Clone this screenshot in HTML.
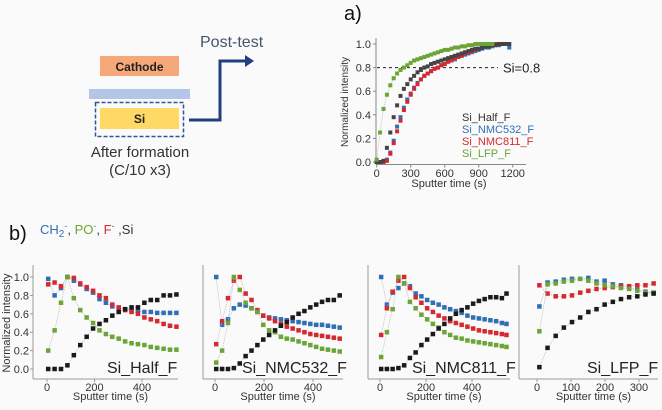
<!DOCTYPE html>
<html><head><meta charset="utf-8">
<style>
body{margin:0;background:#fafafa;}
svg{display:block;font-family:"Liberation Sans",sans-serif;}
</style></head>
<body>
<svg id="fig" width="662" height="410" viewBox="0 0 662 410" xmlns="http://www.w3.org/2000/svg">
<rect width="662" height="410" fill="#fafafa"/>
<g>
  <rect x="100" y="56" width="79" height="20" fill="#f7a878"/>
  <text x="139.5" y="71" text-anchor="middle" font-size="12" font-weight="bold" fill="#222">Cathode</text>
  <rect x="89" y="89" width="101" height="10" fill="#b4c6e7"/>
  <rect x="95.5" y="102.5" width="88" height="34" fill="none" stroke="#2f5597" stroke-width="1.5" stroke-dasharray="4,2"/>
  <rect x="100" y="108" width="79" height="21" fill="#ffd966"/>
  <text x="139.5" y="123" text-anchor="middle" font-size="12" font-weight="bold" fill="#222">Si</text>
  <text x="140" y="157" text-anchor="middle" font-size="15" fill="#333">After formation</text>
  <text x="140" y="175" text-anchor="middle" font-size="15" fill="#333">(C/10 x3)</text>
  <polyline points="189,120 220,120 220,61 246,61" fill="none" stroke="#1f3f7f" stroke-width="3"/>
  <polygon points="245,55 254,61 245,67" fill="#1f3f7f"/>
  <text x="200" y="47" font-size="16" fill="#44546a">Post-test</text>
</g>
<text x="344" y="20" font-size="20" fill="#111">a)</text>
<text x="9" y="240" font-size="20" fill="#111">b)</text>
<text x="40" y="234" font-size="13"><tspan fill="#2f6fb5">CH</tspan><tspan fill="#2f6fb5" font-size="10" dy="3">2</tspan><tspan fill="#2f6fb5" font-size="9" dy="-8">-</tspan><tspan fill="#333" dy="5">, </tspan><tspan fill="#6aa535">PO</tspan><tspan fill="#6aa535" font-size="9" dy="-5">-</tspan><tspan fill="#333" dy="5">, </tspan><tspan fill="#d8282f">F</tspan><tspan fill="#d8282f" font-size="9" dy="-5">-</tspan><tspan fill="#333" dy="5"> ,Si</tspan></text>
<g id="plots"></g>
</svg>
<script>
// Panel a data
const aTimes=[0,30,60,90,120,150,180,210,240,270,300,330,360,390,420,450,480,510,540,570,600,630,660,690,720,750,780,810,840,870,900,930,960,990,1020,1050,1080,1110,1140,1170];
const aHalf=[0,0,0.01,0.12,0.25,0.38,0.48,0.56,0.62,0.66,0.70,0.73,0.76,0.78,0.80,0.81,0.83,0.84,0.85,0.86,0.87,0.88,0.89,0.90,0.91,0.92,0.93,0.94,0.95,0.96,0.96,0.97,0.98,0.98,0.99,0.99,1.0,1.0,1.0,1.0];
const aNMC532=[0,0,0,0.02,0.08,0.18,0.30,0.38,0.46,0.53,0.58,0.63,0.67,0.70,0.73,0.75,0.77,0.79,0.80,0.82,0.83,0.85,0.86,0.87,0.89,0.90,0.91,0.92,0.93,0.94,0.95,0.96,0.97,0.97,0.98,0.99,0.99,1.0,1.0,0.97];
const aNMC811=[0,0,0,0.01,0.07,0.16,0.26,0.35,0.44,0.51,0.57,0.62,0.66,0.70,0.73,0.75,0.77,0.79,0.80,0.82,0.83,0.85,0.86,0.88,0.89,0.90,0.92,0.93,0.94,0.95,0.96,0.97,0.98,0.98,0.99,1.0,1.0,1.0,null,null];
const aLFP=[0.02,0.25,0.45,0.57,0.65,0.71,0.75,0.78,0.80,0.82,0.84,0.86,0.87,0.88,0.89,0.90,0.91,0.92,0.93,0.94,0.95,0.95,0.96,0.97,0.97,0.98,0.98,0.99,0.99,1.0,1.0,1.0,1.0,1.0,1.0,null,null,null,null,null];
const aXTicks=[0,300,600,900,1200];
const aYTicks=[0,0.2,0.4,0.6,0.8,1.0];

// Panel b data
const bTitles=["Si_Half_F","Si_NMC532_F","Si_NMC811_F","Si_LFP_F"];
const b1Times=[5,32,59,86,113,140,167,194,221,248,275,302,329,356,383,410,437,464,491,518,545];
const b1Si=[0,0,0,0.04,0.15,0.26,0.35,0.44,0.49,0.53,0.58,0.62,0.65,0.67,0.67,0.72,0.75,0.75,0.80,0.80,0.81];
const b1CH2=[0.98,0.80,0.88,1.0,0.96,0.92,0.87,0.83,0.76,0.72,0.68,0.66,0.65,0.64,0.63,0.62,0.62,0.61,0.61,0.61,0.61];
const b1F=[0.92,0.94,0.90,1.0,0.99,0.93,0.89,0.85,0.80,0.77,0.70,0.67,0.64,0.62,0.60,0.56,0.54,0.52,0.49,0.47,0.46];
const b1PO=[0.20,0.42,0.72,1.0,0.77,0.64,0.56,0.50,0.42,0.38,0.35,0.33,0.30,0.28,0.27,0.26,0.24,0.23,0.22,0.21,0.21];
const b2Times=[5,29,53,77,101,125,149,173,197,221,245,269,293,317,341,365,389,413,437,461,485,509];
const b2Si=[0,0,0,0.01,0.06,0.14,0.20,0.26,0.32,0.37,0.42,0.47,0.51,0.56,0.60,0.63,0.67,0.70,0.73,0.75,0.75,0.80];
const b2CH2=[1.0,0.48,0.54,0.66,0.70,0.69,0.66,0.62,0.58,0.56,0.55,0.54,0.53,0.52,0.51,0.50,0.49,0.48,0.48,0.47,0.46,0.45];
const b2F=[0.27,0.52,0.77,0.96,1.0,0.82,0.75,0.64,0.58,0.55,0.52,0.49,0.46,0.44,0.42,0.40,0.38,0.37,0.36,0.35,0.34,0.33];
const b2PO=[0.07,0.20,0.50,1.0,0.86,0.72,0.66,0.62,0.48,0.42,0.40,0.35,0.33,0.32,0.30,0.28,0.26,0.24,0.22,0.21,0.20,0.19];
const b3Times=[5,30,55,80,105,130,155,180,205,230,255,280,305,330,355,380,405,430,455,480,505,530,550];
const b3Si=[0,0,0,0.01,0.04,0.12,0.18,0.26,0.32,0.38,0.44,0.49,0.55,0.60,0.64,0.67,0.71,0.74,0.76,0.78,0.78,0.77,0.82];
const b3CH2=[1.0,0.70,0.83,0.88,0.93,0.90,0.82,0.79,0.75,0.72,0.70,0.67,0.65,0.63,0.61,0.58,0.56,0.55,0.54,0.53,0.52,0.50,0.49];
const b3F=[0.37,0.66,0.84,0.96,1.0,0.88,0.78,0.72,0.66,0.62,0.58,0.55,0.52,0.50,0.48,0.46,0.44,0.42,0.41,0.40,0.39,0.38,0.37];
const b3PO=[0.13,0.40,0.65,1.0,0.93,0.73,0.66,0.59,0.54,0.49,0.45,0.40,0.37,0.34,0.33,0.31,0.30,0.29,0.28,0.27,0.26,0.25,0.24];
const b4Times=[7,31,55,79,103,127,151,175,199,223,247,271,295,319,343];
const b4Si=[0.02,0.23,0.36,0.45,0.51,0.56,0.62,0.65,0.70,0.73,0.76,0.78,0.79,0.81,0.82];
const b4CH2=[0.68,0.94,0.95,0.97,0.98,0.98,0.99,0.95,0.96,0.92,0.91,0.89,0.86,0.84,0.83];
const b4F=[0.91,0.82,0.79,0.79,0.80,0.83,0.85,0.87,0.88,0.89,0.90,0.90,0.91,0.91,0.93];
const b4PO=[0.41,0.92,0.93,0.95,0.96,0.98,0.96,0.93,0.91,0.90,0.88,0.87,0.85,0.83,0.83];
const b13XTicks=[0,200,400];
const b4XTicks=[0,100,200,300];
const bYTicks=[0,0.2,0.4,0.6,0.8,1.0];

const NS="http://www.w3.org/2000/svg";
const root=document.getElementById('plots');
function mk(tag,attrs,parent){const e=document.createElementNS(NS,tag);for(const k in attrs)e.setAttribute(k,attrs[k]);(parent||root).appendChild(e);return e;}
const COL={blue:"#2f6fb5",red:"#d8282f",green:"#6aa535",black:"#1a1a1a",gray:"#444"};

function drawSeries(g,times,vals,xs,ys,color,name,sz,line){
  const pts=[];
  times.forEach((t,i)=>{if(vals[i]!=null)pts.push([xs(t),ys(vals[i])]);});
  if(line){
    const pl=mk('polyline',{points:pts.map(p=>p.join(',')).join(' '),fill:'none',stroke:'#bbb','stroke-width':0.7,'stroke-dasharray':'1.5,1'},g);
    
    
  }
  pts.forEach(p=>{
    const r=mk('rect',{x:p[0]-sz/2,y:p[1]-sz/2,width:sz,height:sz,fill:color},g);
    
    
  });
}

// Panel a
(function(){
  const g=mk('g',{});
  
  
  const xs=t=>376.7+t*(136/1200), ys=v=>162-v*118;
  mk('line',{x1:376,y1:38,x2:376,y2:164.5,stroke:'#888','stroke-width':1},g);
  mk('line',{x1:376,y1:164.5,x2:526,y2:164.5,stroke:'#888','stroke-width':1},g);
  aYTicks.forEach(v=>{mk('line',{x1:373,y1:ys(v),x2:376,y2:ys(v),stroke:'#888'},g);
    const t=mk('text',{x:371,y:ys(v)+4,'text-anchor':'end','font-size':11,fill:'#333'},g);t.textContent=v.toFixed(1);
    });
  aXTicks.forEach(v=>{mk('line',{x1:xs(v),y1:164.5,x2:xs(v),y2:167.5,stroke:'#888'},g);
    const t=mk('text',{x:xs(v),y:177,'text-anchor':'middle','font-size':11,fill:'#333'},g);t.textContent=v;
    });
  let t=mk('text',{x:449,y:187,'text-anchor':'middle','font-size':11,fill:'#333'},g);t.textContent='Sputter time (s)';
  
  t=mk('text',{transform:'translate(348,102) rotate(-90)','text-anchor':'middle','font-size':10,fill:'#333'},g);t.textContent='Normalized intensity';
  
  const dl=mk('line',{x1:377,y1:ys(0.8),x2:498,y2:ys(0.8),stroke:'#222','stroke-width':1,'stroke-dasharray':'3,3'},g);
  
  t=mk('text',{x:503,y:ys(0.8)+5,'font-size':13,fill:'#222'},g);t.textContent='Si=0.8';
  
  drawSeries(g,aTimes,aNMC532,xs,ys,COL.blue,'a-nmc532',4,false);
  drawSeries(g,aTimes,aNMC811,xs,ys,COL.red,'a-nmc811',4,false);
  drawSeries(g,aTimes,aHalf,xs,ys,COL.gray,'a-half',4,false);
  drawSeries(g,aTimes,aLFP,xs,ys,COL.green,'a-lfp',4,true);
  [['Si_Half_F','#333'],['Si_NMC532_F',COL.blue],['Si_NMC811_F',COL.red],['Si_LFP_F',COL.green]].forEach((L,i)=>{
    const e=mk('text',{x:462,y:121+i*12,'font-size':11,fill:L[1]},g);e.textContent=L[0];
    
  });
})();

// Panel b
const subs=[
 {ax:33,x0:47,pps:95/400,times:b1Times,si:b1Si,ch:b1CH2,f:b1F,po:b1PO,ticks:b13XTicks,right:178,tx:107},
 {ax:203,x0:215,pps:98/400,times:b2Times,si:b2Si,ch:b2CH2,f:b2F,po:b2PO,ticks:b13XTicks,right:343,tx:242},
 {ax:368,x0:380,pps:92/400,times:b3Times,si:b3Si,ch:b3CH2,f:b3F,po:b3PO,ticks:b13XTicks,right:510,tx:412},
 {ax:519,x0:537,pps:102/300,times:b4Times,si:b4Si,ch:b4CH2,f:b4F,po:b4PO,ticks:b4XTicks,right:658,tx:587}];
const ysb=v=>369-v*92;
subs.forEach((s,k)=>{
  const g=mk('g',{});
  
  
  const xs=t=>s.x0+t*s.pps;
  mk('line',{x1:s.ax,y1:265,x2:s.ax,y2:379,stroke:'#999'},g);
  mk('line',{x1:s.ax,y1:379,x2:s.right,y2:379,stroke:'#999'},g);
  if(k===0){
    bYTicks.forEach(v=>{mk('line',{x1:s.ax-3,y1:ysb(v),x2:s.ax,y2:ysb(v),stroke:'#999'},g);
      const t=mk('text',{x:29,y:ysb(v)+4,'text-anchor':'end','font-size':11,fill:'#333'},g);t.textContent=v.toFixed(1);
      });
    const t=mk('text',{transform:'translate(10,323) rotate(-90)','text-anchor':'middle','font-size':11,fill:'#333'},g);t.textContent='Normalized intensity';
    
  }
  s.ticks.forEach(v=>{mk('line',{x1:xs(v),y1:379,x2:xs(v),y2:382,stroke:'#999'},g);
    const t=mk('text',{x:xs(v),y:391,'text-anchor':'middle','font-size':11,fill:'#333'},g);t.textContent=v;
    });
  let t=mk('text',{x:s.ax+(s.right-s.ax)/2+5,y:400,'text-anchor':'middle','font-size':11,fill:'#333'},g);t.textContent='Sputter time (s)';
  
  drawSeries(g,s.times,s.ch,xs,ysb,COL.blue,'ch2',4.5,true);
  drawSeries(g,s.times,s.f,xs,ysb,COL.red,'f',4.5,true);
  drawSeries(g,s.times,s.po,xs,ysb,COL.green,'po',4.5,true);
  drawSeries(g,s.times,s.si,xs,ysb,COL.black,'si',4.5,true);
  t=mk('text',{x:s.tx,y:373,'font-size':16,fill:'#222'},g);t.textContent=bTitles[k];
  
});
</script>
</body></html>
